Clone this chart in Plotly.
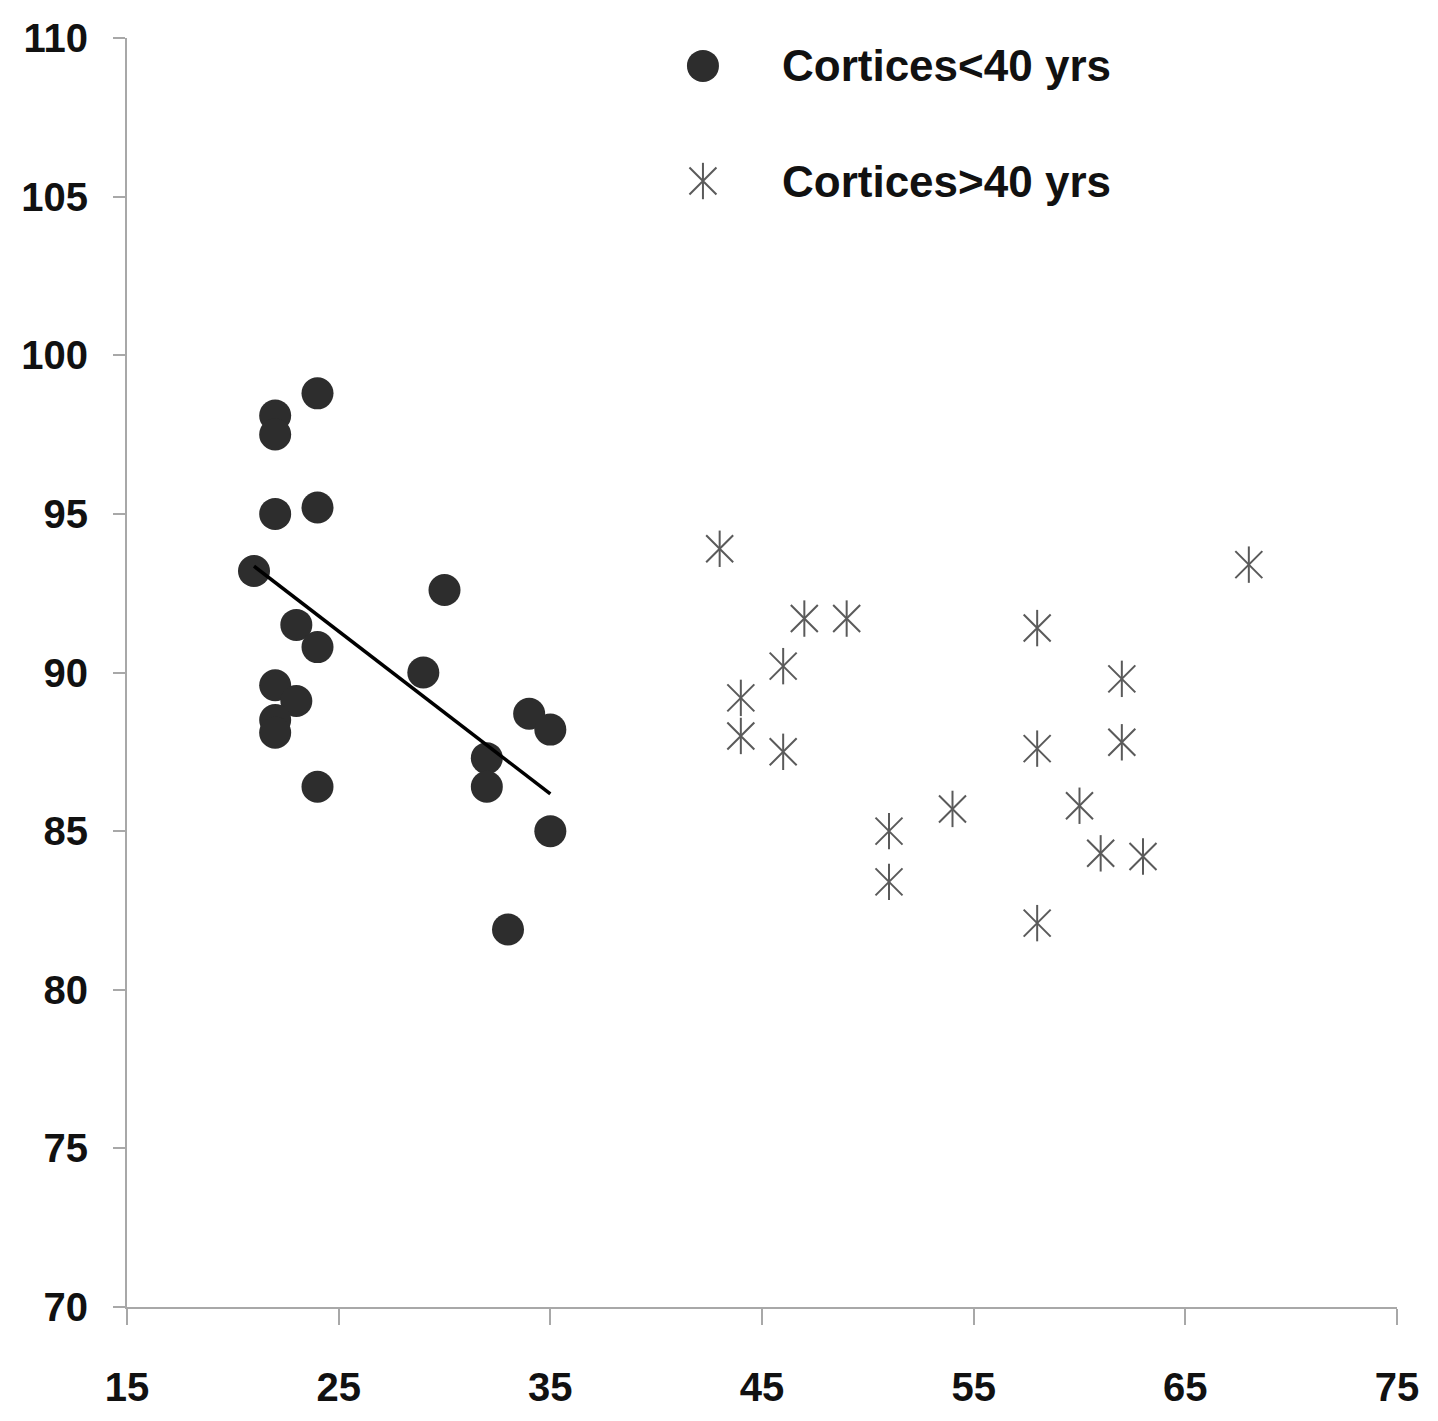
import numpy as np
import plotly.graph_objects as go

# Cortices younger than 40 years
young_age = [21, 22, 22, 22, 24, 24, 23, 24, 22, 23, 22, 22, 24, 30, 29, 32, 32, 34, 35, 35, 33]
young_val = [93.2, 98.1, 97.5, 95.0, 98.8, 95.2, 91.5, 90.8, 89.6, 89.1, 88.5, 88.1, 86.4,
             92.6, 90.0, 87.3, 86.4, 88.7, 88.2, 85.0, 81.9]

# Cortices older than 40 years
old_age = [43, 44, 44, 46, 46, 47, 49, 51, 51, 54, 58, 58, 58, 60, 61, 62, 62, 63, 68]
old_val = [93.9, 89.2, 88.0, 90.2, 87.5, 91.7, 91.7, 85.0, 83.4, 85.7, 91.4, 87.6, 82.1,
           85.8, 84.3, 89.8, 87.8, 84.2, 93.4]

legend_labels = ["Cortices<40 yrs", "Cortices>40 yrs"]
x_ticks = [15, 25, 35, 45, 55, 65, 75]
y_ticks = [70, 75, 80, 85, 90, 95, 100, 105, 110]

# Least-squares trend for the younger group
slope, intercept = np.polyfit(young_age, young_val, 1)
trend_x = [min(young_age), max(young_age)]
trend_y = [slope * v + intercept for v in trend_x]

DOT = "#2d2d2d"
STAR = "#5a5a5a"
AXIS = "#a8a8a8"
FONT = "Liberation Sans"


def star_traces(xs, ys, **kw):
    """Six-armed star: a thin X plus a vertical stroke."""
    common = dict(mode="markers", showlegend=False, **kw)
    return [
        go.Scatter(x=xs, y=ys, marker=dict(symbol="x-thin-open", size=27, color=STAR,
                                           line=dict(color=STAR, width=2)), **common),
        go.Scatter(x=xs, y=ys, marker=dict(symbol="line-ns-open", size=26, color=STAR,
                                           line=dict(color=STAR, width=2)), **common),
    ]


fig = go.Figure()

fig.add_trace(go.Scatter(x=young_age, y=young_val, mode="markers", showlegend=False,
                         marker=dict(symbol="circle", size=32, color=DOT, line=dict(width=0))))
fig.add_trace(go.Scatter(x=trend_x, y=trend_y, mode="lines", showlegend=False,
                         line=dict(color="#000000", width=3.5)))
for tr in star_traces(old_age, old_val):
    fig.add_trace(tr)

# Legend keys drawn on an invisible unit overlay axis
KEY_X = 0.4535
KEY_Y = [0.978, 0.8873]
fig.add_trace(go.Scatter(x=[KEY_X], y=[KEY_Y[0]], xaxis="x2", yaxis="y2", mode="markers",
                         showlegend=False, hoverinfo="skip",
                         marker=dict(symbol="circle", size=32, color=DOT)))
for tr in star_traces([KEY_X], [KEY_Y[1]], xaxis="x2", yaxis="y2", hoverinfo="skip"):
    fig.add_trace(tr)

for label, ky in zip(legend_labels, KEY_Y):
    fig.add_annotation(x=0.5142, y=ky, xref="paper", yref="paper", text=label,
                       showarrow=False, xanchor="left", yanchor="middle",
                       font=dict(family=FONT, size=44, color="#111111", weight="bold"))

tick_font = dict(family=FONT, size=40, color="#111111", weight="bold")

fig.update_layout(
    width=1438, height=1421,
    margin=dict(l=127, r=41, t=38, b=114),
    paper_bgcolor="white", plot_bgcolor="white",
    showlegend=False,
    xaxis=dict(range=[15, 75], tickvals=x_ticks, ticktext=[str(t) for t in x_ticks],
               showgrid=False, zeroline=False, showline=True, linecolor=AXIS, linewidth=2,
               ticks="outside", ticklen=16, tickwidth=2, tickcolor=AXIS,
               tickfont=tick_font, ticklabelstandoff=28),
    yaxis=dict(range=[70, 110], tickvals=y_ticks, ticktext=[str(t) for t in y_ticks],
               showgrid=False, zeroline=False, showline=True, linecolor=AXIS, linewidth=2,
               ticks="outside", ticklen=12, tickwidth=2, tickcolor=AXIS,
               tickfont=tick_font, ticklabelstandoff=17),
    xaxis2=dict(overlaying="x", anchor="y2", range=[0, 1], visible=False, fixedrange=True),
    yaxis2=dict(overlaying="y", anchor="x2", range=[0, 1], visible=False, fixedrange=True),
)

fig.write_html("out.html")
